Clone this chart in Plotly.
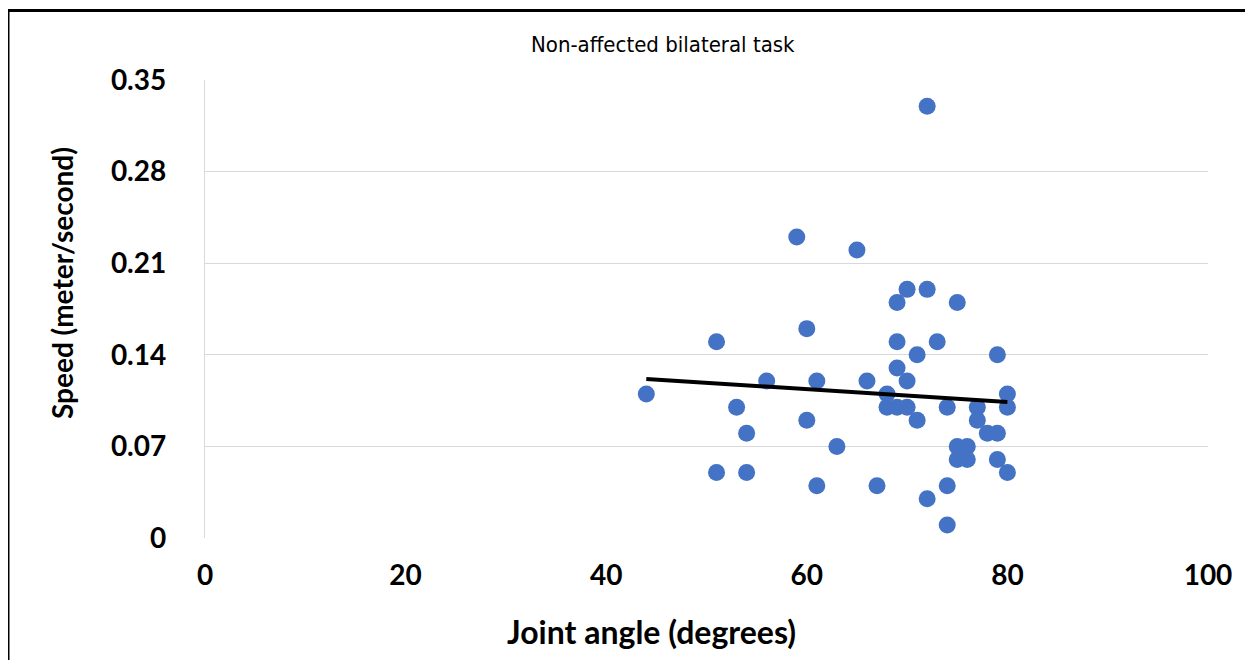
import numpy as np
import plotly.graph_objects as go

# Data
joint_angle = [44, 51, 51, 53, 54, 54, 56, 59, 60, 60, 61, 61, 63, 65, 66, 67,
               68, 68, 69, 69, 69, 69, 70, 70, 70, 71, 71, 72, 72, 72, 73,
               74, 74, 74, 75, 75, 75, 76, 76, 77, 77, 78, 79, 79, 79, 80, 80, 80]
speed = [0.11, 0.15, 0.05, 0.10, 0.08, 0.05, 0.12, 0.23, 0.16, 0.09, 0.12, 0.04, 0.07, 0.22, 0.12, 0.04,
         0.11, 0.10, 0.18, 0.15, 0.13, 0.10, 0.19, 0.12, 0.10, 0.14, 0.09, 0.33, 0.19, 0.03, 0.15,
         0.10, 0.04, 0.01, 0.18, 0.07, 0.06, 0.07, 0.06, 0.10, 0.09, 0.08, 0.08, 0.14, 0.06, 0.11, 0.10, 0.05]

x_ticks = [0, 20, 40, 60, 80, 100]
y_ticks = [0, 0.07, 0.14, 0.21, 0.28, 0.35]
y_tick_labels = ["0", "0.07", "0.14", "0.21", "0.28", "0.35"]

title_text = "Non-affected bilateral task"
x_title = "Joint angle (degrees)"
y_title = "Speed (meter/second)"

# Linear trendline (least squares)
xa = np.array(joint_angle, dtype=float)
ya = np.array(speed, dtype=float)
slope, intercept = np.polyfit(xa, ya, 1)
trend_x = [xa.min(), xa.max()]
trend_y = [slope * v + intercept for v in trend_x]

FONT = "Lato, Carlito, Calibri, sans-serif"
tick_font = dict(family=FONT, size=28, color="#000000", weight="bold")

# page offset (body margin) of 8px
OFF = 8
W, H = 1253 - OFF, 660 - OFF
L, R, T, B = 205 - OFF, 45, 80 - OFF, 122
plot_w = W - L - R
plot_h = H - T - B


def px(x):
    return (x - OFF - L) / plot_w


def py(y):
    return (H - B - (y - OFF)) / plot_h


fig = go.Figure()
fig.add_trace(go.Scatter(
    x=joint_angle, y=speed, mode="markers",
    marker=dict(size=17, color="#4472C4", line=dict(width=0)),
    showlegend=False, hoverinfo="x+y"))
fig.add_trace(go.Scatter(
    x=trend_x, y=trend_y, mode="lines",
    line=dict(color="#000000", width=4),
    showlegend=False, hoverinfo="skip"))

fig.update_layout(
    width=W, height=H,
    margin=dict(l=L, r=R, t=T, b=B, autoexpand=False),
    paper_bgcolor="#ffffff", plot_bgcolor="#ffffff",
    showlegend=False,
    annotations=[
        dict(text=title_text, x=px(663), y=py(45), xref="paper", yref="paper",
             xanchor="center", yanchor="middle", showarrow=False,
             font=dict(family="DejaVu Sans Condensed, Liberation Sans Narrow, Arial Narrow, sans-serif",
                       size=22, color="#000000")),
        dict(text=x_title, x=px(651), y=py(631), xref="paper", yref="paper",
             xanchor="center", yanchor="middle", showarrow=False,
             font=dict(family=FONT, size=32, color="#000000", weight="bold")),
        dict(text=y_title, x=px(62), y=py(283), xref="paper", yref="paper",
             xanchor="center", yanchor="middle", showarrow=False, textangle=-90,
             font=dict(family=FONT, size=28, color="#000000", weight="bold")),
    ],
    shapes=[
        dict(type="line", xref="paper", yref="paper",
             x0=px(7), x1=px(1252), y0=py(10.5), y1=py(10.5),
             line=dict(color="#000000", width=3)),
        dict(type="line", xref="paper", yref="paper",
             x0=px(8.5), x1=px(8.5), y0=py(9), y1=py(670),
             line=dict(color="#000000", width=2)),
        dict(type="line", xref="paper", yref="paper",
             x0=px(1251.5), x1=px(1251.5), y0=py(12), y1=py(670),
             line=dict(color="#d0d0d0", width=1.5)),
    ],
)

fig.update_xaxes(
    range=[0, 100], tickvals=x_ticks, ticktext=[str(v) for v in x_ticks],
    showgrid=False, zeroline=False, showline=False,
    ticks="", tickfont=tick_font, ticklabelstandoff=18,
)
fig.update_yaxes(
    range=[0, 0.35], tickvals=y_ticks, ticktext=y_tick_labels,
    showgrid=True, gridcolor="#d9d9d9", gridwidth=1.3,
    zeroline=False, showline=True, linecolor="#d9d9d9", linewidth=1.3,
    ticks="", tickfont=tick_font, ticklabelstandoff=32,
)

fig.write_html("out.html")
